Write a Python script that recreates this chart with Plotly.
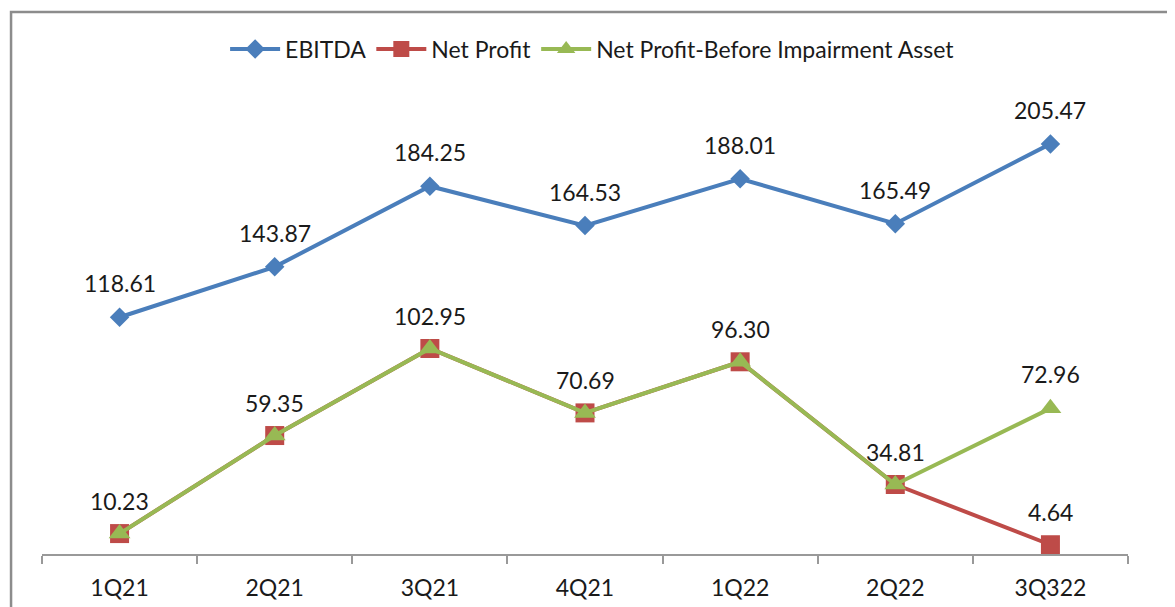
import plotly.graph_objects as go

quarters = ["1Q21", "2Q21", "3Q21", "4Q21", "1Q22", "2Q22", "3Q322"]
ebitda = [118.61, 143.87, 184.25, 164.53, 188.01, 165.49, 205.47]
net_profit = [10.23, 59.35, 102.95, 70.69, 96.30, 34.81, 4.64]
net_profit_before_imp = [10.23, 59.35, 102.95, 70.69, 96.30, 34.81, 72.96]

BLUE = "#4A7EBB"
RED = "#BE4B48"
GREEN = "#98B954"
FONT = "Lato, 'Noto Sans', sans-serif"
TXT = "#1a1a1a"
FS = 23

fig = go.Figure()
fig.add_trace(go.Scatter(x=quarters, y=ebitda, name="EBITDA", mode="lines+markers",
                         line=dict(color=BLUE, width=4),
                         marker=dict(symbol="diamond", size=15, color=BLUE)))
fig.add_trace(go.Scatter(x=quarters, y=net_profit, name="Net Profit", mode="lines+markers",
                         line=dict(color=RED, width=4),
                         marker=dict(symbol="square", size=19, color=RED)))
fig.add_trace(go.Scatter(x=quarters, y=net_profit_before_imp, name="Net Profit-Before Impairment Asset",
                         mode="lines+markers",
                         line=dict(color=GREEN, width=4),
                         marker=dict(symbol="triangle-up", size=19, color=GREEN)))

annotations = []
for q, v in zip(quarters, ebitda):
    annotations.append(dict(x=q, y=v, text=f"{v:.2f}", showarrow=False, yshift=34,
                            font=dict(size=FS, color=TXT, family=FONT)))
for q, v, w in zip(quarters, net_profit, net_profit_before_imp):
    annotations.append(dict(x=q, y=v, text=f"{v:.2f}", showarrow=False, yshift=33,
                            font=dict(size=FS, color=TXT, family=FONT)))
    if w != v:
        annotations.append(dict(x=q, y=w, text=f"{w:.2f}", showarrow=False, yshift=34,
                                font=dict(size=FS, color=TXT, family=FONT)))

# page body has an 8px margin: figure drawn from (8, 8)
fig.update_layout(
    width=1167, height=599,
    margin=dict(l=34, r=47, t=47, b=53, autoexpand=False),
    paper_bgcolor="white", plot_bgcolor="white",
    font=dict(family=FONT, size=FS, color=TXT),
    showlegend=True,
    legend=dict(orientation="h", x=0.507, xanchor="center", y=1.012, yanchor="middle",
                font=dict(size=FS, color=TXT, family=FONT), bgcolor="rgba(0,0,0,0)",
                itemwidth=50, tracegroupgap=0),
    xaxis=dict(type="category", range=[-0.5, 6.5], showgrid=False, showline=True,
               linecolor="#999999", linewidth=1.5, ticks="outside", tickson="boundaries",
               ticklen=8, tickcolor="#999999", tickwidth=1.5, ticklabelstandoff=13,
               automargin=False,
               tickfont=dict(size=FS, color=TXT, family=FONT), zeroline=False),
    yaxis=dict(range=[0, 250], visible=False, showgrid=False, zeroline=False),
    annotations=annotations,
    shapes=[dict(type="rect", xref="paper", yref="paper",
                 x0=-0.0285, x1=1.0387, y0=-0.12, y1=1.086,
                 line=dict(color="#8c8c8c", width=2.5), fillcolor="rgba(0,0,0,0)", layer="below")],
)

fig.write_html("out.html")
